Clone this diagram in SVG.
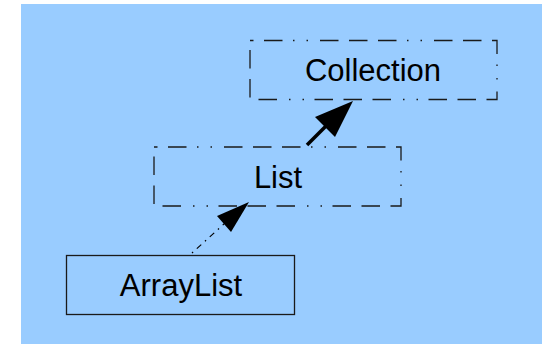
<svg xmlns="http://www.w3.org/2000/svg" width="542" height="344" viewBox="0 0 542 344">
<style>
.box{fill:none;stroke:#1a1a1a;stroke-width:1.3}
.dash{stroke-dasharray:18.5,10.5,18.5,10.5,18.5,10.5,1.5,12,1.5,12;stroke-dashoffset:44}
.lbl{font-family:"Liberation Sans",Arial,sans-serif;font-size:31px;fill:#000;text-anchor:middle}
</style>
<rect x="0" y="0" width="542" height="344" fill="#ffffff"/>
<rect x="21" y="4" width="521" height="340" fill="#99ccff"/>
<g id="connectors">
<line x1="192" y1="253" x2="225" y2="223" stroke="#000" stroke-width="1.2" stroke-dasharray="1.5,5,6,5"/>
<polygon points="249,202 217,216 231,232" fill="#000"/>
<line x1="307" y1="145" x2="327" y2="125" stroke="#000" stroke-width="3.5"/>
<polygon points="353,101 315,117 335,137" fill="#000"/>
</g>
<g id="collection">
<rect class="box dash" x="250" y="40.5" width="247" height="59"/>
<text class="lbl" x="373" y="81">Collection</text>
</g>
<g id="list">
<rect class="box dash" x="154" y="147" width="247" height="59"/>
<text class="lbl" x="278" y="188">List</text>
</g>
<g id="arraylist">
<rect class="box" x="66.5" y="255.5" width="228" height="59"/>
<text class="lbl" x="181" y="296">ArrayList</text>
</g>
</svg>
